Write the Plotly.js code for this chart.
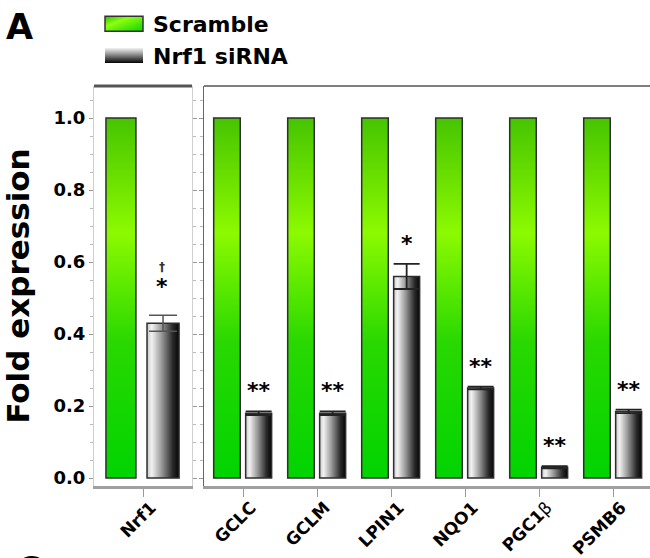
<!DOCTYPE html>
<html>
<head>
<meta charset="utf-8">
<script src="https://cdn.plot.ly/plotly-3.0.1.min.js"></script>
<style>
  html, body { margin: 0; padding: 0; background: #ffffff; }
  #chart { width: 650px; height: 558px; }
</style>
</head>
<body>
<div id="chart"></div>
<script>
// ---- data ----
var categoriesLeft = ['Nrf1'];
var tickLabelsLeft = ['Nrf1'];
var scrambleLeft = [1.0];
var sirnaLeft = [0.43];
var sirnaLeftErr = [0.022];
var sigLeft = ['*'];

var categoriesRight = ['GCLC', 'GCLM', 'LPIN1', 'NQO1', 'PGC1β', 'PSMB6'];
var tickLabelsRight = ['GCLC', 'GCLM', 'LPIN1', 'NQO1', 'PGC1<span style="font-weight:normal">β</span>', 'PSMB6'];
var scrambleRight = [1.0, 1.0, 1.0, 1.0, 1.0, 1.0];
var sirnaRight = [0.18, 0.18, 0.56, 0.25, 0.03, 0.185];
var sirnaRightErr = [0.005, 0.005, 0.035, 0.004, 0.003, 0.005];
var sigRight = ['**', '**', '*', '**', '**', '**'];

var seriesNames = ['Scramble', 'Nrf1 siRNA'];
var yTickVals = [0.0, 0.2, 0.4, 0.6, 0.8, 1.0];

// ---- styling ----
var F = 'DejaVu Sans, Verdana, sans-serif';
var GREEN = 'rgb(51, 221, 0)';
var GREY = 'rgb(119, 119, 119)';
var W = 650, H = 558;
var yDom = [(H - 486) / H, (H - 86) / H];
var yRange = [-0.0222, 1.0889];

var barLine = { color: '#2e2e2e', width: 1.5 };

var data = [
  { type: 'bar', name: seriesNames[0], legendgroup: 's', x: categoriesLeft, y: scrambleLeft,
    xaxis: 'x', yaxis: 'y', marker: { color: GREEN, line: barLine },
    offset: -0.378, width: 0.306, showlegend: true },
  { type: 'bar', name: seriesNames[1], legendgroup: 'n', x: categoriesLeft, y: sirnaLeft,
    xaxis: 'x', yaxis: 'y', marker: { color: GREY, line: barLine },
    offset: 0.041, width: 0.327, showlegend: true,
    error_y: { type: 'data', array: sirnaLeftErr, visible: true, color: '#555', thickness: 1.5, width: 14 } },
  { type: 'bar', name: seriesNames[0], legendgroup: 's', x: categoriesRight, y: scrambleRight,
    xaxis: 'x2', yaxis: 'y2', marker: { color: GREEN, line: barLine },
    offset: -0.396, width: 0.359, showlegend: false },
  { type: 'bar', name: seriesNames[1], legendgroup: 'n', x: categoriesRight, y: sirnaRight,
    xaxis: 'x2', yaxis: 'y2', marker: { color: GREY, line: barLine },
    offset: 0.036, width: 0.351, showlegend: false,
    error_y: { type: 'data', array: sirnaRightErr, visible: true, color: '#222', thickness: 1.8, width: 13 } }
];

var tickFontY = { family: F, size: 18, weight: 'bold', color: '#000' };
var tickFontX = { family: F, size: 17, weight: 'bold', color: '#000' };

var annotations = [];
function addSig(cats, vals, errs, sigs, xref, yref, xshift, yshift) {
  for (var i = 0; i < cats.length; i++) {
    annotations.push({
      x: cats[i], y: vals[i] + errs[i], xref: xref, yref: yref,
      text: sigs[i], showarrow: false, xanchor: 'center', yanchor: 'bottom',
      xshift: xshift, yshift: yshift,
      font: { family: F, size: 22, weight: 'bold', color: '#000' }
    });
  }
}
addSig(categoriesLeft, sirnaLeft, sirnaLeftErr, sigLeft, 'x', 'y', 19, 14);
addSig(categoriesRight, sirnaRight, sirnaRightErr, sigRight, 'x2', 'y2', 16, 6);
// small dagger above Nrf1 star
annotations.push({
  x: categoriesLeft[0], y: sirnaLeft[0] + sirnaLeftErr[0], xref: 'x', yref: 'y',
  text: '†', showarrow: false, xanchor: 'center', yanchor: 'bottom',
  xshift: 19, yshift: 39, font: { family: F, size: 12, weight: 'bold', color: '#333' }
});
// panel letters
annotations.push({
  x: 4 / W, y: 1 - 5 / H, xref: 'paper', yref: 'paper', text: 'A', showarrow: false,
  xanchor: 'left', yanchor: 'top',
  font: { family: F, size: 35, weight: 'bold', color: '#000' }
});
annotations.push({
  x: 14 / W, y: 0, xref: 'paper', yref: 'paper', text: 'C', showarrow: false,
  xanchor: 'left', yanchor: 'bottom', yshift: -34,
  font: { family: F, size: 35, weight: 'bold', color: '#000' }
});

var minorY = { dtick: 0.05, ticks: 'outside', ticklen: 3, tickcolor: '#bbb', tickwidth: 1, showgrid: false };

var layout = {
  width: W, height: H,
  margin: { l: 0, r: 0, t: 0, b: 0, pad: 0 },
  paper_bgcolor: '#ffffff', plot_bgcolor: '#ffffff',
  barmode: 'group',
  showlegend: true,
  legend: {
    x: 95 / W, y: 1 - 3 / H, xanchor: 'left', yanchor: 'top',
    bgcolor: 'rgba(0,0,0,0)', borderwidth: 0,
    itemwidth: 48, traceorder: 'normal',
    font: { family: F, size: 22, weight: 'bold', color: '#000' }
  },
  xaxis: {
    domain: [94 / W, 192 / W], anchor: 'y', type: 'category', range: [-0.5, 0.5],
    tickvals: categoriesLeft, ticktext: tickLabelsLeft, tickangle: -45,
    ticks: 'outside', ticklen: 8, tickcolor: '#999', tickwidth: 1,
    showline: true, linecolor: '#a0a0a0', linewidth: 3, mirror: false,
    showgrid: false, zeroline: false, tickfont: tickFontX,
    ticklabelshift: 8, ticklabelstandoff: -6, fixedrange: true
  },
  yaxis: {
    domain: yDom, anchor: 'x', range: yRange, tickvals: yTickVals, tickformat: '.1f',
    ticks: 'outside', ticklen: 4, tickcolor: '#999', tickwidth: 1,
    showline: true, linecolor: '#d0d0d0', linewidth: 1, mirror: 'ticks',
    showgrid: false, zeroline: false, tickfont: tickFontY, minor: minorY,
    title: { text: 'Fold expression', standoff: 15, font: { family: F, size: 31, weight: 'bold', color: '#000' } },
    fixedrange: true
  },
  xaxis2: {
    domain: [204 / W, 1], anchor: 'y2', type: 'category', range: [-0.527, 5.5],
    tickvals: categoriesRight, ticktext: tickLabelsRight, tickangle: -45,
    ticks: 'outside', ticklen: 8, tickcolor: '#999', tickwidth: 1,
    showline: true, linecolor: '#a0a0a0', linewidth: 3, mirror: false,
    showgrid: false, zeroline: false, tickfont: tickFontX,
    ticklabelshift: 8, ticklabelstandoff: -6, fixedrange: true
  },
  yaxis2: {
    domain: yDom, anchor: 'x2', range: yRange, tickvals: yTickVals, showticklabels: false,
    ticks: 'outside', ticklen: 4, tickcolor: '#999', tickwidth: 1,
    showline: true, linecolor: '#666', linewidth: 1, mirror: 'ticks',
    showgrid: false, zeroline: false, minor: minorY, fixedrange: true
  },
  shapes: [
    { type: 'line', xref: 'x domain', yref: 'y domain', x0: 0, x1: 1, y0: 1, y1: 1,
      line: { color: '#555', width: 3 } },
    { type: 'line', xref: 'x2 domain', yref: 'y2 domain', x0: 0, x1: 1, y0: 1, y1: 1,
      line: { color: '#555', width: 1.5 } }
  ],
  annotations: annotations
};

Plotly.newPlot('chart', data, layout, { staticPlot: true, displayModeBar: false }).then(function (gd) {
  var ns = 'http://www.w3.org/2000/svg';
  var svg = gd.querySelector('svg.main-svg');
  var defs = svg.querySelector('defs');
  function grad(id, x1, y1, x2, y2, stops) {
    var g = document.createElementNS(ns, 'linearGradient');
    g.setAttribute('id', id);
    g.setAttribute('x1', x1); g.setAttribute('y1', y1);
    g.setAttribute('x2', x2); g.setAttribute('y2', y2);
    stops.forEach(function (s) {
      var st = document.createElementNS(ns, 'stop');
      st.setAttribute('offset', s[0]);
      st.setAttribute('stop-color', s[1]);
      g.appendChild(st);
    });
    defs.appendChild(g);
  }
  grad('gGreen', 0, 0, 0, 1, [[0, '#46c400'], [0.32, '#8cfa00'], [0.62, '#2ad800'], [1, '#00d400']]);
  grad('gGrey', 0, 0, 1, 0, [[0, '#c8c8c8'], [0.15, '#f2f2f2'], [0.45, '#9a9a9a'], [0.8, '#2a2a2a'], [1, '#050505']]);
  grad('gGreenLeg', 0, 0, 1, 1, [[0, '#30c000'], [0.35, '#8cff10'], [1, '#10d000']]);
  grad('gGreyLeg', 0, 0, 0, 1, [[0, '#f4f4f4'], [0.4, '#999'], [1, '#050505']]);

  gd.querySelectorAll('.barlayer .trace').forEach(function (tr) {
    var cd = tr.__data__;
    var nm = cd && cd[0] && cd[0].trace ? cd[0].trace.name : '';
    var id = nm === seriesNames[0] ? 'gGreen' : 'gGrey';
    tr.querySelectorAll('.point path').forEach(function (p) { p.style.fill = 'url(#' + id + ')'; });
  });
  gd.querySelectorAll('.legend .traces').forEach(function (tr) {
    var txt = tr.querySelector('.legendtext');
    var nm = txt ? txt.textContent : '';
    tr.querySelectorAll('.legendpoints path').forEach(function (p) {
      p.setAttribute('d', 'M19,7.5H-19V-7.5H19Z');
      if (nm === seriesNames[0]) {
        p.style.fill = 'url(#gGreenLeg)';
        p.style.stroke = '#333'; p.style.strokeWidth = '1.5px';
      } else {
        p.style.fill = 'url(#gGreyLeg)';
        p.style.stroke = 'none';
      }
    });
  });
});
</script>
</body>
</html>
